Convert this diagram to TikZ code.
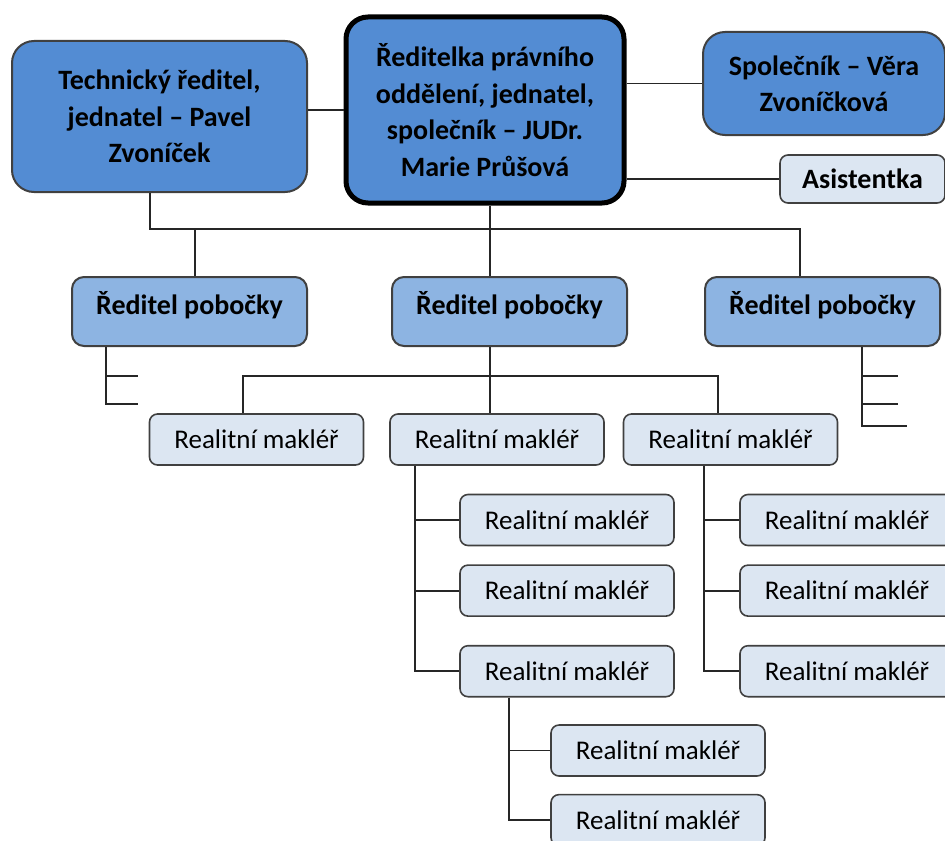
\documentclass[tikz,border=0pt]{standalone}
\usepackage{fontspec}
\setmainfont{Carlito}
\usetikzlibrary{positioning,calc}
\definecolor{cDark}{HTML}{538CD3}
\definecolor{cMid}{HTML}{8DB4E2}
\definecolor{cLight}{HTML}{DCE6F2}
\definecolor{cEdge}{HTML}{404040}

\begin{document}
\begin{tikzpicture}[
  x=0.5pt,y=-0.5pt,
  font=\fontsize{13.5}{17}\selectfont,
  boss/.style={draw=cEdge,line width=1pt,fill=cDark,rounded corners=11pt,align=center,
    font=\fontsize{14}{18.2}\selectfont\bfseries},
  branch/.style={draw=cEdge,line width=1pt,fill=cMid,rounded corners=6pt,
    minimum width=117.5pt,minimum height=34.5pt,text depth=9pt,font=\fontsize{14}{17}\selectfont\bfseries},
  agent/.style={draw=cEdge,line width=0.8pt,fill=cLight,rounded corners=4pt,
    minimum width=107pt,minimum height=25.5pt},
  link/.style={draw=black!85,line width=0.9pt}
]
\useasboundingbox (0,0) rectangle (945,840);
\clip (0,0) rectangle (945,840);

% --- management ---
\node[boss,minimum width=147.5pt,minimum height=75.5pt] (tech) at (159.5,116.5)
     {Technický ředitel,\\jednatel -- Pavel\\Zvoníček};
\node[boss,draw=black,line width=2.5pt,minimum width=139pt,minimum height=93pt] (ceo) at (485,110)
     {Ředitelka právního\\oddělení, jednatel,\\společník -- JUDr.\\Marie Průšová};
\node[boss,minimum width=121pt,minimum height=51.5pt] (partner) at (824,83.5)
     {Společník -- Věra\\Zvoníčková};
\node[agent,font=\fontsize{14}{17}\selectfont\bfseries,minimum width=82.5pt,minimum height=24pt] (asst)
     at (862.5,179) {Asistentka};

% --- branches ---
\node[branch] (pob1) at (189.5,311.5) {Ředitel pobočky};
\node[branch,right=41.5pt of pob1] (pob2) {Ředitel pobočky};
\node[branch,right=38pt of pob2] (pob3) {Ředitel pobočky};

% --- agents ---
\node[agent] (r1) at (256.5,439.5) {Realitní makléř};
\node[agent] (r2) at (497,439.5) {Realitní makléř};
\node[agent] (r3) at (730.5,439.5) {Realitní makléř};
\node[agent] (c21) at (567,520) {Realitní makléř};
\node[agent,below=9pt of c21] (c22) {Realitní makléř};
\node[agent,below=14pt of c22] (c23) {Realitní makléř};
\node[agent] (c31) at (847,520) {Realitní makléř};
\node[agent,below=9pt of c31] (c32) {Realitní makléř};
\node[agent,below=14pt of c32] (c33) {Realitní makléř};
\node[agent] (g1) at (658,750.5) {Realitní makléř};
\node[agent,below=8.5pt of g1] (g2) {Realitní makléř};

% --- connectors ---
\draw[link] (ceo.west -| tech.east) -- (ceo.west);
\draw[link] (ceo.east |- partner.west) -- (partner.west);
\draw[link] (ceo.east |- asst.west) -- (asst.west);
\coordinate (busL) at (150,229);
\coordinate (busR) at (800,229);
\coordinate (j1) at (195,229);
\coordinate (j2) at (490,229);
\draw[link] (tech.south -| busL) -- (busL) -- (busR) -- (pob3.north -| busR);
\draw[link] (j1) -- (j1 |- pob1.north);
\draw[link] (ceo.south -| j2) -- (j2 |- pob2.north);

% open stubs below the outer branches
\draw[link] (pob1.south -| 106,0) -- (106,404) -- (138,404);
\draw[link] (106,376) -- (138,376);
\draw[link] (pob3.south -| 862,0) -- (862,426) -- (907,426);
\draw[link] (862,376) -- (898,376);
\draw[link] (862,404) -- (898,404);

\coordinate (m) at (490,376);
\draw[link] (pob2.south -| m) -- (m) -- (r2.north -| m);
\draw[link] (r1.north -| 243,0) -- (243,376) -- (718,376) -- (r3.north -| 718,0);

\draw[link] (r2.south -| 415,0) |- (c23.west);
\draw[link] (c21.west -| 415,0) -- (c21.west);
\draw[link] (c22.west -| 415,0) -- (c22.west);
\draw[link] (r3.south -| 704,0) |- (c33.west);
\draw[link] (c31.west -| 704,0) -- (c31.west);
\draw[link] (c32.west -| 704,0) -- (c32.west);
\draw[link] (c23.south -| 509,0) |- (g2.west);
\draw[link] (g1.west -| 509,0) -- (g1.west);
\end{tikzpicture}
\end{document}
